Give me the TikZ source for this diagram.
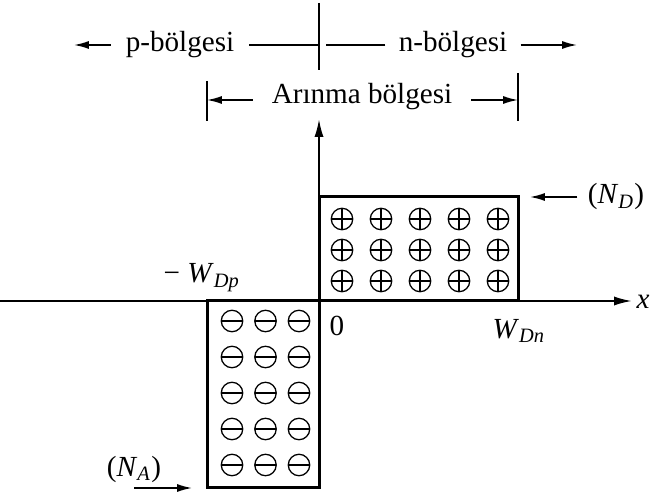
\documentclass[tikz,border=0pt]{standalone}
\usepackage{fontspec}
\setmainfont{Liberation Serif}
\usetikzlibrary{arrows.meta}
\pgfkeys{tikz/chargebox/.style={line width=1.05pt}}
\pgfkeys{tikz/axisline/.style={line width=0.7pt,-{Latex[length=6.3pt,width=3.2pt]}}}
\pgfkeys{tikz/thinline/.style={line width=0.55pt}}
\pgfkeys{tikz/regionarrow/.style={thinline,-{Latex[length=5.2pt,width=2.8pt]}}}
\pgfkeys{tikz/lbl/.style={font=\fontsize{10.2}{12}\selectfont,inner sep=0pt,anchor=base}}
\pgfkeys{tikz/ion/.style={circle,draw,minimum size=7.5pt,inner sep=0pt,line width=0.45pt}}
\pgfkeys{tikz/ionplus/.style={ion,path picture={\draw[line width=0.45pt]
  (path picture bounding box.north) -- (path picture bounding box.south)
  (path picture bounding box.west) -- (path picture bounding box.east);}}}
\pgfkeys{tikz/ionminus/.style={ion,path picture={\draw[line width=0.45pt]
  (path picture bounding box.west) -- (path picture bounding box.east);}}}
\newcommand*\subsc[1]{\textsubscript{\textit{#1}}}

\begin{document}
\begin{tikzpicture}[x=0.35pt,y=-0.35pt]
\useasboundingbox (0,0) rectangle (651,497);

% region labels on top
\node[lbl,inner xsep=5pt] (ptext) at (180,52) {p-bölgesi};
\node[lbl,inner xsep=4.5pt] (ntext) at (453,52) {n-bölgesi};
\node[lbl,inner xsep=6.5pt] (dtext) at (362,104) {Arınma bölgesi};

\coordinate (junctop) at (319,3);
\coordinate (junctbot) at (319,70);
\coordinate (junc) at (319,45);
\coordinate (pend) at (74,45);
\coordinate (nend) at (577,45);
\coordinate (dleft) at (207,100);
\coordinate (dright) at (518,100);

\draw[thinline] (junctop) -- (junctbot);
\draw[regionarrow] (ptext.west |- pend) -- (pend);
\draw[regionarrow] (ntext.east |- nend) -- (nend);
\draw[thinline] (ptext.east |- junc) -- (junc);
\draw[thinline] (ntext.west |- junc) -- ([xshift=2.5pt]junc);

\draw[thinline] (dleft) ++(0,-19) -- ++(0,40);
\draw[thinline] (dright) ++(0,-27) -- ++(0,48);
\draw[regionarrow] (dtext.west |- dleft) -- (dleft);
\draw[regionarrow] (dtext.east |- dright) -- (dright);

% axes
\coordinate (O) at (319,301);
\coordinate (xleft) at (0,301);
\coordinate (xright) at (632,301);
\coordinate (ybot) at (319,487);
\coordinate (ytop) at (319,119);
\draw[axisline] (xleft) -- (xright);
\draw[axisline] (ybot) -- (ytop);

% charge boxes
\coordinate (nbox) at (518,197);
\coordinate (pbox) at (207,487);
\draw[chargebox] (O) rectangle (nbox);
\draw[chargebox] (O) rectangle (pbox);

% ions
\foreach \c [count=\i] in {342,381,420,459,498}
  \foreach \r [count=\j] in {219,250,281}
    \node[ionplus] (plus-\j-\i) at (\c,\r) {};
\foreach \c [count=\i] in {232,265.5,299}
  \foreach \r [count=\j] in {321,357,393,429,465}
    \node[ionminus] (minus-\j-\i) at (\c,\r) {};

% labels
\node[lbl] (wp) at (202,283) {− \textit{W}\subsc{Dp}};
\node[lbl] (zero) at (337,336) {0};
\node[lbl] (wn) at (519,338) {\textit{W}\subsc{Dn}};
\node[lbl] (xlab) at (643,309) {\textit{x}};
\node[lbl,inner xsep=3.5pt] (nd) at (616,204) {(\textit{N}\subsc{D})};
\node[lbl] (na) at (134,476) {(\textit{N}\subsc{A})};

\coordinate (ndtip) at (530,197);
\coordinate (natip) at (192,488);
\draw[regionarrow] (nd.west |- ndtip) -- (ndtip);
\draw[regionarrow] (na.base |- natip) -- (natip);

\end{tikzpicture}
\end{document}
